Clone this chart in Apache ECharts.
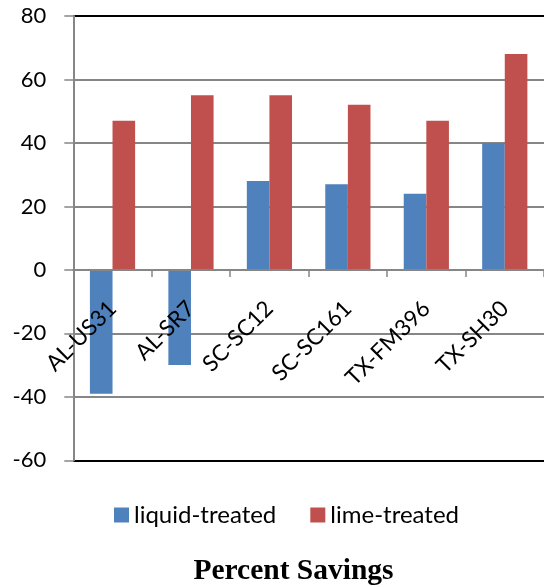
<!DOCTYPE html>
<html>
<head>
<meta charset="utf-8">
<script src="https://cdn.jsdelivr.net/npm/echarts@6/dist/echarts.min.js"></script>
<style>
html,body{margin:0;padding:0;background:#fff;}
#chart{width:544px;height:587px;}
</style>
</head>
<body>
<div id="chart"></div>
<script>
var categories = ['AL-US31', 'AL-SR7', 'SC-SC12', 'SC-SC161', 'TX-FM396', 'TX-SH30'];
var liquidTreated = [-39, -30, 28, 27, 24, 40];
var limeTreated = [47, 55, 55, 52, 47, 68];
var seriesNames = ['liquid-treated', 'lime-treated'];
var chartTitle = 'Percent Savings';

var FONT = 'Lato';
var chart = echarts.init(document.getElementById('chart'), null, {renderer: 'canvas'});
var gridCol = '#868686';
chart.setOption({
  animation: false,
  backgroundColor: '#ffffff',
  title: {
    text: chartTitle,
    left: 288.5,
    top: 551,
    textAlign: 'center',
    textStyle: {fontFamily: 'Liberation Serif', fontWeight: 'bold', fontSize: 29.5, color: '#000'}
  },
  legend: {
    left: 109,
    top: 498,
    itemWidth: 15,
    itemHeight: 15,
    itemGap: 34,
    icon: 'rect',
    data: seriesNames,
    textStyle: {fontFamily: FONT, fontSize: 24, color: '#000'}
  },
  grid: {left: 73.3, right: -7, top: 16, bottom: 126.7},
  xAxis: {
    type: 'category',
    data: categories,
    boundaryGap: true,
    offset: -190.4,
    z: 5,
    axisLine: {onZero: false, lineStyle: {color: gridCol, width: 2}},
    axisTick: {show: true, length: 7, interval: 0, lineStyle: {color: gridCol, width: 1.5}},
    axisLabel: {
      interval: 0, rotate: 45, margin: 35, fontFamily: FONT, fontSize: 22.5, color: '#000',
      padding: [20, 0, 0, 0]
    },
    splitLine: {show: false}
  },
  yAxis: {
    type: 'value',
    min: -60,
    max: 80,
    interval: 20,
    axisLine: {show: true, lineStyle: {color: gridCol, width: 2}},
    axisTick: {show: true, length: 9, lineStyle: {color: gridCol, width: 1.5}},
    axisLabel: {margin: 27, fontFamily: FONT, fontSize: 22, color: '#000'},
    splitLine: {show: true, lineStyle: {color: ['#000', gridCol, gridCol, gridCol, gridCol, gridCol, gridCol, '#000'], width: 2}}
  },
  series: [
    {name: seriesNames[0], type: 'bar', data: liquidTreated, barWidth: 22.6, barGap: '0%',
     itemStyle: {color: '#4F81BD'}},
    {name: seriesNames[1], type: 'bar', data: limeTreated, barWidth: 22.6, barGap: '0%',
     itemStyle: {color: '#C0504D'}}
  ]
});
</script>
</body>
</html>
